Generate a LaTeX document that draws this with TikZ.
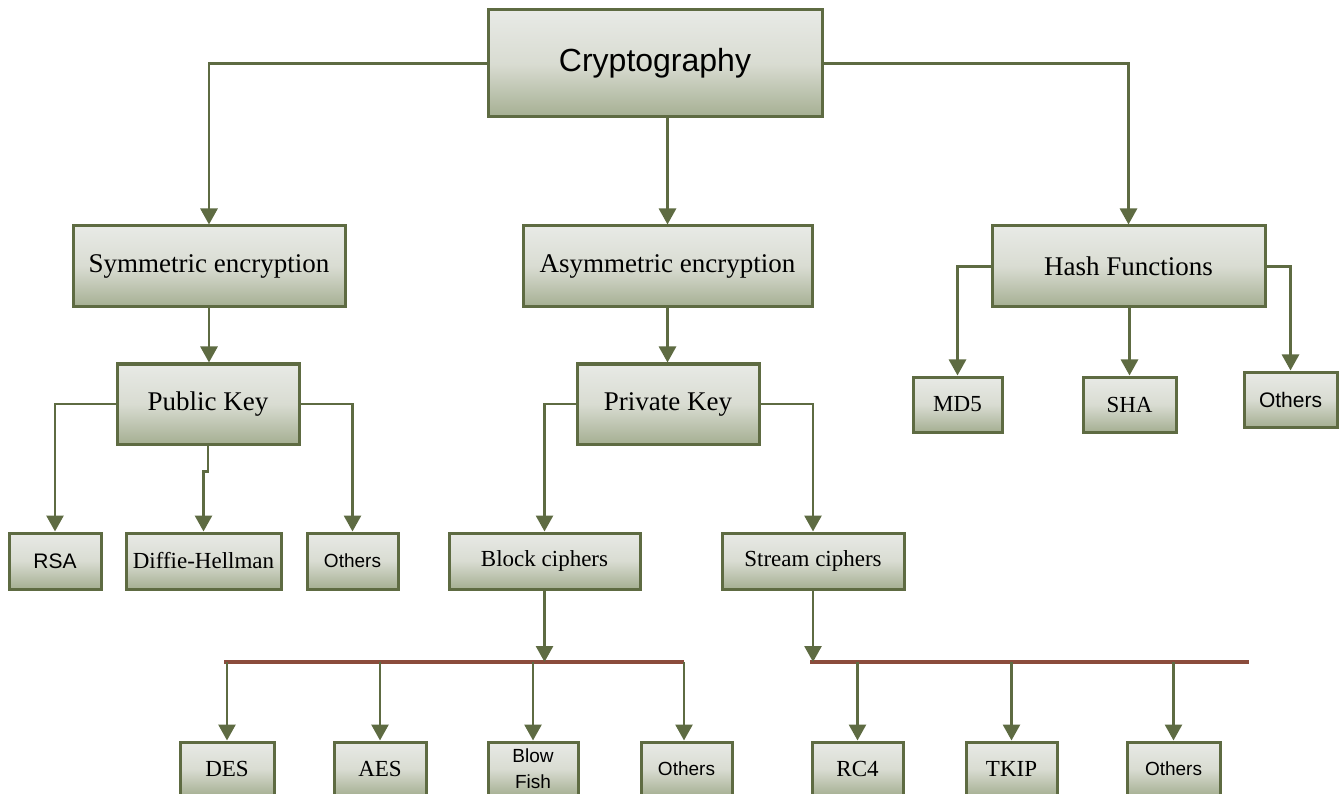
\documentclass[tikz,border=0pt]{standalone}
\usepackage{fontspec}
\setmainfont{Liberation Serif}
\newfontfamily\sansf{Liberation Sans}
\usetikzlibrary{arrows.meta}
\definecolor{olive}{HTML}{5E6B42}
\definecolor{boxtop}{HTML}{E8EAE6}
\definecolor{boxmid}{HTML}{D9DCD2}
\definecolor{boxbot}{HTML}{A5AF92}
\definecolor{busc}{HTML}{8B4C3C}
\tikzset{
  box/.style={draw=olive, line width=3pt, top color=boxtop, bottom color=boxbot, middle color=boxmid,
    inner sep=0pt, anchor=center, align=center, text=black},
  conn/.style={draw=olive, line width=2.8pt, -{Triangle[width=17pt,length=16pt]}},
  bus/.style={draw=busc, line width=3.5pt},
  big/.style={font=\fontsize{27}{30}\selectfont},
  small/.style={font=\fontsize{23}{26}\selectfont},
  ssmall/.style={font=\sansf\fontsize{19}{23}\selectfont},
}
\begin{document}
\begin{tikzpicture}[x=1pt,y=-1pt]
\useasboundingbox (0,0) rectangle (1339,794);
% top
\node[box, minimum width=334pt, minimum height=107pt, font=\sansf\fontsize{32}{36}\selectfont] (crypto) at (655,63.5) {Cryptography};
% level 2
\node[box, big, minimum width=272pt, minimum height=81pt] (sym) at (209,266.5) {Symmetric encryption};
\node[box, big, minimum width=289pt, minimum height=81pt] (asym) at (667.5,266.5) {Asymmetric encryption};
\node[box, big, minimum width=273pt, minimum height=81pt] (hash) at (1128.5,266.5) {Hash Functions};
% level 3
\node[box, big, minimum width=182pt, minimum height=80pt] (pub) at (208,404) {Public Key};
\node[box, big, minimum width=182pt, minimum height=80pt] (priv) at (668,404) {Private Key};
\node[box, small, minimum width=89pt, minimum height=55pt] (md5) at (957.5,404.5) {MD5};
\node[box, small, minimum width=93pt, minimum height=55pt] (sha) at (1129.5,404.5) {SHA};
\node[box, font=\sansf\fontsize{21}{25}\selectfont, minimum width=93pt, minimum height=55pt] (hasho) at (1290.5,399.5) {Others};
% level 4
\node[box, font=\sansf\fontsize{21}{25}\selectfont, minimum width=92pt, minimum height=56pt] (rsa) at (55,561) {RSA};
\node[box, small, minimum width=155pt, minimum height=56pt] (dh) at (203.5,561) {Diffie-Hellman};
\node[box, ssmall, minimum width=91pt, minimum height=56pt] (pko) at (352.5,561) {Others};
\node[box, small, minimum width=191pt, minimum height=56pt] (block) at (544.5,561) {Block ciphers};
\node[box, small, minimum width=182pt, minimum height=56pt] (stream) at (813,561) {Stream ciphers};
% level 5
\node[box, small, minimum width=94pt, minimum height=54pt] (des) at (227,769) {DES};
\node[box, small, minimum width=92pt, minimum height=54pt] (aes) at (380,769) {AES};
\node[box, minimum width=90pt, minimum height=54pt, font=\sansf\fontsize{19}{26}\selectfont] (bf) at (533,769) {Blow\\Fish};
\node[box, ssmall, minimum width=91pt, minimum height=54pt] (bo) at (686.5,769) {Others};
\node[box, small, minimum width=91pt, minimum height=54pt] (rc4) at (857.5,769) {RC4};
\node[box, small, minimum width=91pt, minimum height=54pt] (tkip) at (1011.5,769) {TKIP};
\node[box, ssmall, minimum width=93pt, minimum height=54pt] (so) at (1173.5,769) {Others};
% bus coordinates
\coordinate (b1l) at (224,662);
\coordinate (b1r) at (684,662);
\coordinate (b2l) at (810,662);
\coordinate (b2r) at (1249,662);
% connectors
\draw[conn] (crypto.west) -| (sym.north);
\draw[conn] (asym.north |- crypto.south) -- (asym.north);
\draw[conn] (crypto.east) -| (hash.north);
\draw[conn] (sym.south) -- (pub.north -| sym.south);
\draw[conn] (asym.south) -- (priv.north -| asym.south);
\draw[conn] (pub.west) -| (rsa.north);
\draw[conn] (pub.south) -- ++(0,26) -| (dh.north);
\draw[conn] (pub.east) -| (pko.north);
\draw[conn] (priv.west) -| (block.north);
\draw[conn] (priv.east) -| (stream.north);
\draw[conn] (hash.west) -| (md5.north);
\draw[conn] (hash.south -| sha.north) -- (sha.north);
\draw[conn] (hash.east) -| (hasho.north);
% buses
\draw[bus] (b1l) -- (b1r);
\draw[bus] (b2l) -- (b2r);
\draw[conn] (block.south) -- (block.south |- b1l);
\draw[conn] (stream.south) -- (stream.south |- b2l);
\foreach \n in {des,aes,bf}{\draw[conn] (\n.north |- b1l) -- (\n.north);}
\draw[conn] (b1r) -- (b1r |- bo.north);
\foreach \n in {rc4,tkip,so}{\draw[conn] (\n.north |- b2l) -- (\n.north);}
\end{tikzpicture}
\end{document}
